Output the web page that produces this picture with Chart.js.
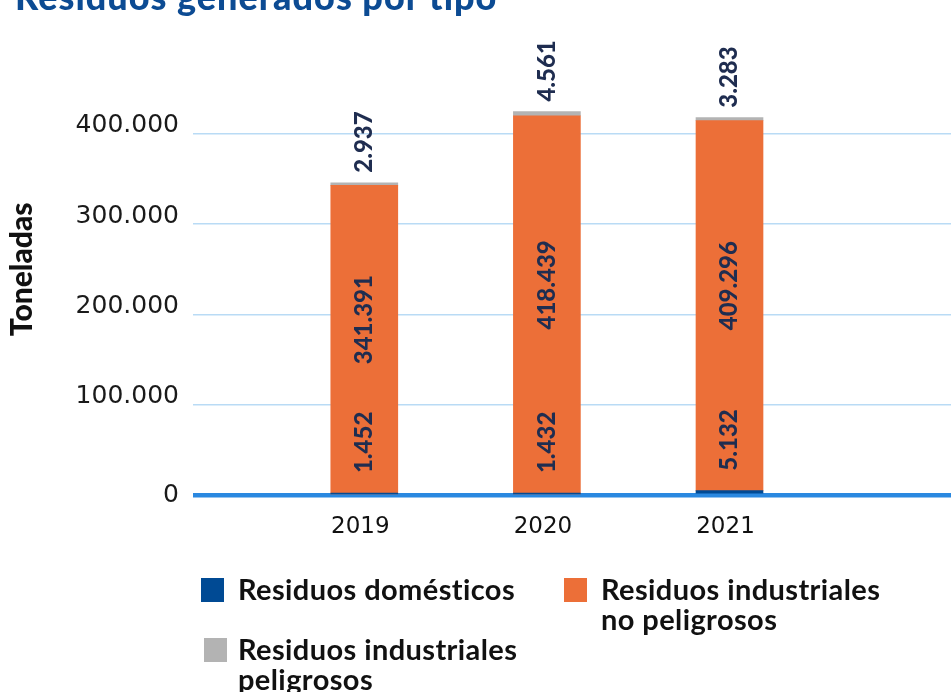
<!DOCTYPE html>
<html lang="es">
<head>
<meta charset="utf-8">
<title>Residuos generados por tipo</title>
<script src="https://cdn.jsdelivr.net/npm/chart.js@4.4.1/dist/chart.umd.min.js"></script>
<style>
  html, body { margin: 0; padding: 0; background: #ffffff; }
  #wrap { position: relative; width: 951px; height: 692px; overflow: hidden; }
  #chart { position: absolute; left: 0; top: 0; }
  #title {
    position: absolute; left: 15px; top: -22px; margin: 0;
    font: 900 36px/1 Lato, sans-serif; letter-spacing: 1px; color: #0c4b93; white-space: nowrap;
  }
  .lg-box { position: absolute; width: 23px; height: 24px; }
  .lg-text {
    position: absolute; font: 700 29px/30px Lato, sans-serif; letter-spacing: 0.4px;
    color: #111111; max-width: 300px;
  }
</style>
</head>
<body>
<div id="wrap">
  <canvas id="chart" width="951" height="692"></canvas>
  <h1 id="title">Residuos generados por tipo</h1>
  <div id="legend"></div>
</div>
<script>
// Years on the horizontal axis
const categories = ['2019', '2020', '2021'];
// Tonnes per waste type and year
const domesticos = [1452, 1432, 5132];
const industrialesNoPeligrosos = [341391, 418439, 409296];
const industrialesPeligrosos = [2937, 4561, 3283];
// Values shown on the vertical axis
const yTicks = [0, 100000, 200000, 300000, 400000];

const seriesNames = [
  'Residuos domésticos',
  'Residuos industriales no peligrosos',
  'Residuos industriales peligrosos'
];
const seriesColors = ['#004a94', '#ec6f38', '#b3b3b3'];

// Spanish thousands separator: 341391 -> "341.391"
function fmt(v) {
  return String(Math.round(v)).replace(/\B(?=(\d{3})+(?!\d))/g, '.');
}

function toPoints(values) {
  return values.map((v, i) => ({ x: Number(categories[i]), y: v }));
}

// Rotated value labels: on top of the small segments, inside the large one
const valueLabels = {
  id: 'valueLabels',
  afterDatasetsDraw(chart) {
    const ctx = chart.ctx;
    ctx.save();
    ctx.fillStyle = '#1f2d50';
    ctx.font = '900 24px Lato, sans-serif';
    ctx.textBaseline = 'middle';
    chart.data.datasets.forEach((ds, di) => {
      const meta = chart.getDatasetMeta(di);
      meta.data.forEach((bar, i) => {
        const text = fmt(ds.data[i].y);
        const top = Math.min(bar.y, bar.base);
        const bottom = Math.max(bar.y, bar.base);
        ctx.save();
        if (di === 1) {
          ctx.translate(bar.x, (top + bottom) / 2 - 20);
          ctx.rotate(-Math.PI / 2);
          ctx.textAlign = 'center';
        } else {
          ctx.translate(bar.x, top - (di === 0 ? 20 : 10));
          ctx.rotate(-Math.PI / 2);
          ctx.textAlign = 'left';
        }
        ctx.fillText(text, 0, 0);
        ctx.restore();
      });
    });
    ctx.restore();
  }
};

const chart = new Chart(document.getElementById('chart'), {
  type: 'bar',
  data: {
    datasets: [
      { label: seriesNames[0], data: toPoints(domesticos), backgroundColor: seriesColors[0] },
      { label: seriesNames[1], data: toPoints(industrialesNoPeligrosos), backgroundColor: seriesColors[1] },
      { label: seriesNames[2], data: toPoints(industrialesPeligrosos), backgroundColor: seriesColors[2] }
    ]
  },
  options: {
    responsive: false,
    animation: false,
    devicePixelRatio: 1,
    datasets: { bar: { barThickness: 67, borderWidth: 0 } },
    layout: { padding: { top: 43.3, right: 0, bottom: 136.7, left: 0 } },
    plugins: {
      legend: { display: false },
      tooltip: { enabled: false }
    },
    scales: {
      x: {
        type: 'linear',
        stacked: true,
        offset: false,
        min: 2018.062,
        max: 2022.213,
        grid: { display: false, drawTicks: false },
        border: { display: false },
        afterBuildTicks(scale) {
          scale.ticks = categories.map(c => ({ value: Number(c) }));
        },
        afterFit(scale) { scale.height = 60; },
        ticks: {
          padding: 18,
          labelOffset: -4,
          color: '#111111',
          font: { family: 'DejaVu Sans', size: 23 },
          callback: (v, i) => categories[i]
        }
      },
      y: {
        stacked: true,
        min: 0,
        max: 500000,
        afterBuildTicks(scale) {
          scale.ticks = yTicks.map(v => ({ value: v }));
        },
        afterFit(scale) { scale.width = 193; },
        border: { display: false },
        grid: {
          drawTicks: false,
          color: c => (c.tick && c.tick.value === 0 ? '#2a88e0' : '#b9dbf5'),
          lineWidth: c => (c.tick && c.tick.value === 0 ? 4.5 : 1.5)
        },
        ticks: {
          padding: 14,
          color: '#1a1a1a',
          font: { family: 'DejaVu Sans', size: 25, lineHeight: '16px' },
          callback: v => (v === 0 ? '0' : [fmt(v), ''])
        },
        title: {
          display: true,
          text: 'Toneladas',
          color: '#111111',
          font: { family: 'Lato', weight: '900', size: 30 },
          padding: { top: 4, bottom: 0 }
        }
      }
    }
  },
  plugins: [valueLabels]
});

// HTML legend built from the chart's own legend items
const legendSpots = [
  { box: [201, 578], text: [238, 574] },
  { box: [564, 578], text: [601, 574] },
  { box: [204, 638], text: [238, 634] }
];
const legendEl = document.getElementById('legend');
Chart.defaults.plugins.legend.labels.generateLabels(chart).forEach(item => {
  const spot = legendSpots[item.datasetIndex];
  const box = document.createElement('div');
  box.className = 'lg-box';
  box.style.left = spot.box[0] + 'px';
  box.style.top = spot.box[1] + 'px';
  box.style.background = item.fillStyle;
  const txt = document.createElement('div');
  txt.className = 'lg-text';
  txt.style.left = spot.text[0] + 'px';
  txt.style.top = spot.text[1] + 'px';
  txt.textContent = item.text;
  legendEl.appendChild(box);
  legendEl.appendChild(txt);
});
</script>
</body>
</html>
